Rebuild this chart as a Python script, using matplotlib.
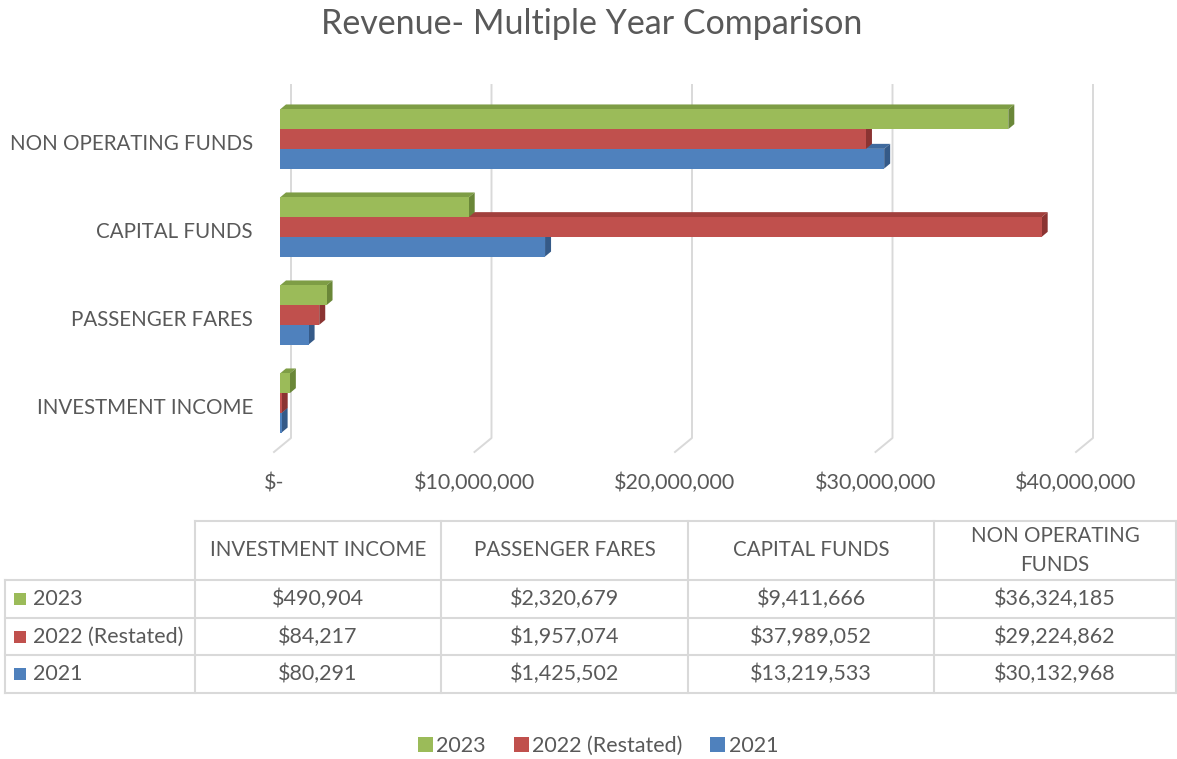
import numpy as np
import matplotlib.pyplot as plt
from matplotlib.patches import Rectangle, Polygon, Patch
from matplotlib import transforms

# data (bottom to top category order, as Excel draws them)
categories = ['INVESTMENT INCOME', 'PASSENGER FARES', 'CAPITAL FUNDS', 'NON OPERATING FUNDS']
series = ['2021', '2022 (Restated)', '2023']
rev_2021 = [80291, 1425502, 13219533, 30132968]
rev_2022 = [84217, 1957074, 37989052, 29224862]
rev_2023 = [490904, 2320679, 9411666, 36324185]
values = [rev_2021, rev_2022, rev_2023]
x_ticks = [0, 10e6, 20e6, 30e6, 40e6]
x_tick_labels = ['$-', '$10,000,000', '$20,000,000', '$30,000,000', '$40,000,000']

front_col = ['#4F81BD', '#C0504D', '#9BBB59']
top_col = ['#3F6A9E', '#A13F3C', '#7E9D45']
side_col = ['#355A88', '#8B3432', '#6A8738']
txt = '#595959'
grid = '#D9D9D9'

plt.rcParams['font.family'] = ['Lato', 'DejaVu Sans']
FS = 15.5      # numbers
FS_CAPS = 14.8  # upper-case labels (Lato caps run wider than the original)

W, H = 1177, 759
fig = plt.figure(figsize=(W / 100, H / 100), dpi=100)

# overlay in pixel units for title, table and legend
over = fig.add_axes([0, 0, 1, 1])
over.set_xlim(0, W)
over.set_ylim(H, 0)
over.axis('off')

ax = fig.add_axes([280 / W, 1 - 447 / H, 802 / W, 352 / H])
ax.set_xlim(0, 40e6)
ax.set_ylim(-0.5, 3.5)
ax.axis('off')

# size of one pixel in data units
dxp = 40e6 / 802
dyp = 1 / 88

def ypix(py):
    return 3.5 - (py - 95) * dyp

# back wall gridlines with a floor step toward the front
for t in x_ticks:
    ax.plot([t + 11 * dxp, t + 11 * dxp, t - 6 * dxp],
            [ypix(85), ypix(438), ypix(452)],
            color=grid, lw=1.4, clip_on=False, zorder=0)

# 3D-looking bars
h = 19.7 / 88
bx, by = 6 * dxp, 5 * dyp
for i in range(len(categories)):
    for s in range(3):
        v = values[s][i]
        y0 = i - 1.5 * h + s * h
        ax.add_patch(Polygon([(0, y0 + h), (bx, y0 + h + by), (v + bx, y0 + h + by), (v, y0 + h)],
                             closed=True, facecolor=top_col[s], edgecolor='none', clip_on=False, zorder=2))
        ax.add_patch(Polygon([(v, y0), (v + bx, y0 + by), (v + bx, y0 + h + by), (v, y0 + h)],
                             closed=True, facecolor=side_col[s], edgecolor='none', clip_on=False, zorder=2))
        ax.add_patch(Rectangle((0, y0), v, h, facecolor=front_col[s], edgecolor='none',
                               clip_on=False, zorder=2))

# category labels
for i, c in enumerate(categories):
    ax.text(-27 * dxp, i - 5 * dyp, c, ha='right', va='center', fontsize=FS_CAPS, color=txt)

# value axis labels (x in data, y in pixels)
trans = transforms.blended_transform_factory(ax.transData, over.transData)
for t, lab in zip(x_ticks, x_tick_labels):
    over.text(t - 6 * dxp, 483, lab, ha='center', va='center', fontsize=FS, color=txt, transform=trans)

over.text(592, 24, 'Revenue- Multiple Year Comparison', ha='center', va='center', fontsize=24.5, color=txt)

# data table
col_x = [5, 195, 441, 688, 934, 1176]
row_y = [521, 580, 618, 655, 693]
lk = dict(color=grid, lw=1.5)
over.plot([col_x[1], col_x[-1]], [row_y[0], row_y[0]], **lk)
for yy in row_y[1:]:
    over.plot([col_x[0], col_x[-1]], [yy, yy], **lk)
over.plot([col_x[0], col_x[0]], [row_y[1], row_y[-1]], **lk)
for xx in col_x[1:]:
    over.plot([xx, xx], [row_y[0], row_y[-1]], **lk)

headers = ['INVESTMENT INCOME', 'PASSENGER FARES', 'CAPITAL FUNDS', 'NON OPERATING\nFUNDS']
for j, hd in enumerate(headers):
    over.text((col_x[j + 1] + col_x[j + 2]) / 2, (row_y[0] + row_y[1]) / 2, hd,
              ha='center', va='center', fontsize=FS_CAPS, color=txt, linespacing=1.6)

for r, s in enumerate([2, 1, 0]):
    yc = (row_y[r + 1] + row_y[r + 2]) / 2
    over.add_patch(Rectangle((14, yc - 6), 12, 12, facecolor=front_col[s], edgecolor='none'))
    over.text(33, yc, series[s], ha='left', va='center', fontsize=FS, color=txt)
    for j in range(len(categories)):
        over.text((col_x[j + 1] + col_x[j + 2]) / 2, yc, f'${values[s][j]:,.0f}',
                  ha='center', va='center', fontsize=FS, color=txt)

# legend
handles = [Patch(facecolor=front_col[s], edgecolor='none', label=series[s]) for s in [2, 1, 0]]
leg = over.legend(handles=handles, loc='center', bbox_to_anchor=(598 / W, 1 - 746 / H),
                  bbox_transform=fig.transFigure, ncol=3, frameon=False, fontsize=FS,
                  handlelength=0.7, handleheight=0.7, handletextpad=0.15, columnspacing=1.3)
for t in leg.get_texts():
    t.set_color(txt)

fig.savefig('out.png', dpi=100, facecolor='white')
